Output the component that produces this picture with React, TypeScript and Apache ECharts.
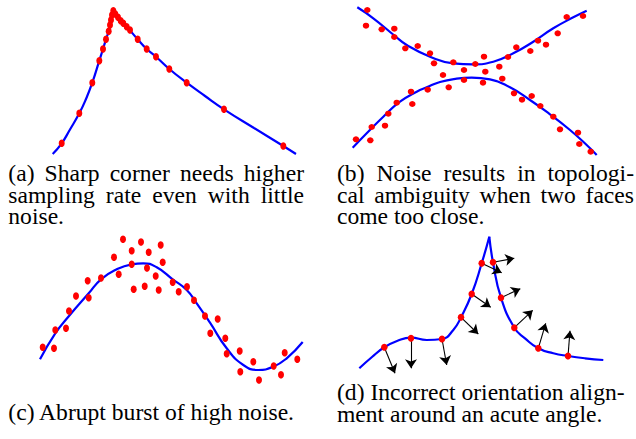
import React, { useEffect, useRef } from "react";
import * as echarts from "echarts";

const W = 636;
const H = 439;

// (a) sharp corner
const cornerLeft = [[52.7,154],[61.7,143.3],[70,129.5],[79.3,113.3],[86,99],[92.3,82.7],[99.3,60.7],[103,49],[106,39.3],[108.7,31.3],[110.7,23.3],[111.9,16.7],[113.3,9.5]];
const cornerRight = [[113.3,9.5],[116,14.5],[120,19.5],[125,24.5],[129.3,29.5],[137.7,39.3],[146.7,49],[156,56.7],[169.3,69],[186.7,82.7],[205,96],[224,109.3],[254,128],[283.3,146],[296,154]];
const cornerPts = [[61.7,143.3],[79.3,113.3],[92.3,82.7],[99.3,60.7],[103,49],[106,39.3],[108.7,31.3],[110,25],[111,20],[112,15],[113.3,10.7],[115.3,14],[118,17.3],[120.7,20.7],[123.3,23.3],[126.7,26.7],[130,30],[137.7,39.3],[146.7,49],[156,56.7],[169.3,69],[186.7,82.7],[224,109.3],[283.3,146]];

// (b) two close faces
const faceUpper = [[357.3,7.3],[373.3,18.3],[395,36],[406.7,45],[430,56.7],[453.3,63.3],[473.3,64.3],[493.3,61.7],[513.3,53.3],[533.3,41.7],[553.3,28.3],[573.3,17.3],[586.7,10.7]];
const faceLower = [[352.7,147.7],[366.7,133.3],[383.3,116.7],[400,101.7],[416.7,91.7],[426.7,87.3],[440,82],[456.7,78.7],[471.7,77.7],[490,79.3],[510,87.3],[530,100],[550,114.3],[570,130],[586.7,145],[596.7,155]];
const facePts = [[367.3,10],[366,25.7],[381.7,29.3],[394.3,28.7],[394.3,37],[405.3,48.3],[417.7,46],[430,53.3],[434,63.3],[443,75],[448.7,87.3],[453.3,62.3],[464,70],[464,80],[475.3,64],[484,56.7],[485.3,71.7],[483,82.7],[499.3,66.7],[502.3,78.7],[508,57],[516.3,47.3],[514,93.3],[522,99.7],[531.7,96],[530.3,51],[538,40.7],[546,44.7],[540.3,106],[557.7,33.3],[553.3,116.7],[560,129.3],[566.7,17],[583,16],[578,132.7],[579.3,144],[590.7,151.7],[356,139.3],[370.3,140.3],[371.7,127],[385,125.7],[388.3,113.7],[396.7,102.7],[411,91.7],[412.3,104],[427.7,89.7]];

// (c) burst of noise
const waveCurve = [[40,359.3],[55.3,333.3],[69,316],[88.7,293.3],[101,279.3],[116.7,269.3],[131.7,264.3],[143.3,263.3],[156.7,267.3],[172.7,279.3],[186.7,290],[196.7,303.3],[210,322.7],[226.7,348.3],[243.3,365],[258.3,370],[273.3,366.7],[286.7,358.3],[302.7,342]];
const wavePts = [[42.7,347.3],[54,348.3],[55.3,330],[66,328.3],[69,311],[76,296],[88.7,297.7],[87.7,280.7],[101,278],[114,257.3],[118.7,274.3],[123,239.3],[131.7,250.7],[131.7,264.3],[133.7,289.3],[141,242],[144.7,286.3],[148.7,252.3],[147,268],[155.7,276],[158.7,290],[160.7,245],[162.7,262.3],[172.7,282.3],[178.7,291.7],[187,286.7],[194,300.3],[205,316],[217.7,319],[210.3,333.3],[225.3,338.3],[226.7,353.7],[239.7,351],[240.3,371.7],[253.3,361.7],[259,380],[273.7,366],[281,374.7],[284.7,352.7],[297.3,359.3]];

// (d) acute angle orientation
const acuteLeft = [[359.3,368.3],[372,357],[384.3,347.3],[397,341],[411,337.6],[426.7,340],[442,339],[453.3,330],[461,317.3],[471.7,294],[481.7,263.3],[489.3,236.7]];
const acuteRight = [[489.3,236.7],[493,262.3],[501,297.7],[514.3,327.7],[525,338.3],[538.3,348.3],[553.3,353.3],[568,356],[585,358.3],[603.3,360]];
const acutePts = [[384.3,347.3],[411,338.3],[442,339],[461,317.3],[471.7,294],[481.7,263.3],[493,262.3],[501,297.7],[514.3,327.7],[538.3,348.3],[568,356]];
const arrowTips = [[395,373.3],[411,368.3],[446.7,365],[478.3,334],[490.7,307.3],[501.7,272.7],[514.3,258.3],[520.3,288.7],[532.7,310.3],[545.7,323.3],[570,330.7]];

// captions
const FONT_SIZE = 23.6;
const FONT_FAMILY = "Liberation Serif";
const captions = [
  { text: "(a) Sharp corner needs higher", x0: 8.3, x1: 304, base: 181, justify: true },
  { text: "sampling rate even with little", x0: 8.3, x1: 304, base: 202.7, justify: true },
  { text: "noise.", x0: 8.3, x1: 304, base: 224.3, justify: false },
  { text: "(b) Noise results in topologi-", x0: 337, x1: 634, base: 181, justify: true },
  { text: "cal ambiguity when two faces", x0: 337, x1: 634, base: 202.7, justify: true },
  { text: "come too close.", x0: 337, x1: 634, base: 224.3, justify: false },
  { text: "(c) Abrupt burst of high noise.", x0: 8.3, x1: 304, base: 419.5, justify: false },
  { text: "(d) Incorrect orientation align-", x0: 337, x1: 634, base: 400, justify: false },
  { text: "ment around an acute angle.", x0: 337, x1: 634, base: 421.7, justify: false },
];

function captionGraphics() {
  const canvas = document.createElement("canvas");
  const ctx = canvas.getContext("2d")!;
  ctx.font = `${FONT_SIZE}px "${FONT_FAMILY}"`;
  const els: any[] = [];
  captions.forEach((c) => {
    if (!c.justify) {
      els.push({
        type: "text",
        x: c.x0,
        y: c.base - 20,
        style: { text: c.text, fill: "#000", fontSize: FONT_SIZE, fontFamily: FONT_FAMILY },
      });
      return;
    }
    const words = c.text.split(" ");
    const widths = words.map((w) => ctx.measureText(w).width);
    const total = widths.reduce((a, b) => a + b, 0);
    const gap = (c.x1 - c.x0 - total) / (words.length - 1);
    let x = c.x0;
    words.forEach((w, i) => {
      els.push({
        type: "text",
        x,
        y: c.base - 20,
        style: { text: w, fill: "#000", fontSize: FONT_SIZE, fontFamily: FONT_FAMILY },
      });
      x += widths[i] + gap;
    });
  });
  return els;
}

const BLUE = "#0000ff";
const RED = "#ff0000";

function curve(data: number[][]) {
  return {
    type: "line",
    data,
    smooth: true,
    symbol: "none",
    showSymbol: false,
    silent: true,
    lineStyle: { color: BLUE, width: 2.2 },
    z: 2,
  };
}

function dots(data: number[][], size: number[]) {
  return {
    type: "scatter",
    data,
    symbol: "circle",
    symbolSize: size,
    silent: true,
    itemStyle: { color: RED, opacity: 1 },
    z: 4,
  };
}

export default function App() {
  const marksRef = useRef<HTMLDivElement>(null);
  const textRef = useRef<HTMLDivElement>(null);
  useEffect(() => {
    if (!marksRef.current || !textRef.current) return;
    const marks = echarts.init(marksRef.current, undefined, { renderer: "svg" });
    marks.setOption({
      animation: false,
      backgroundColor: "#ffffff",
      grid: { left: 0, top: 0, right: 0, bottom: 0 },
      xAxis: { type: "value", min: 0, max: W, show: false },
      yAxis: { type: "value", min: 0, max: H, inverse: true, show: false },
      series: [
        curve(cornerLeft),
        curve(cornerRight),
        curve(faceUpper),
        curve(faceLower),
        curve(waveCurve),
        curve(acuteLeft),
        curve(acuteRight),
        {
          type: "lines",
          coordinateSystem: "cartesian2d",
          symbol: ["none", "arrow"],
          symbolSize: 9,
          silent: true,
          lineStyle: { color: "#000", width: 1.1, opacity: 1 },
          data: acutePts.map((p, i) => ({ coords: [p, arrowTips[i]] })),
          z: 3,
        },
        dots(cornerPts, [6, 7.5]),
        dots(facePts, [6.5, 6]),
        dots(wavePts, [6, 7.5]),
        dots(acutePts, [6.5, 7]),
      ],
    });
    const text = echarts.init(textRef.current, undefined, { renderer: "svg" });
    text.setOption({ animation: false, graphic: captionGraphics() });
    return () => {
      marks.dispose();
      text.dispose();
    };
  }, []);
  const layer: React.CSSProperties = { position: "absolute", left: 0, top: 0, width: W, height: H };
  return (
    <div style={{ position: "absolute", left: 0, top: 0, width: W, height: H, overflow: "hidden" }}>
      <div ref={marksRef} style={layer} />
      <div ref={textRef} style={{ ...layer, pointerEvents: "none" }} />
    </div>
  );
}
